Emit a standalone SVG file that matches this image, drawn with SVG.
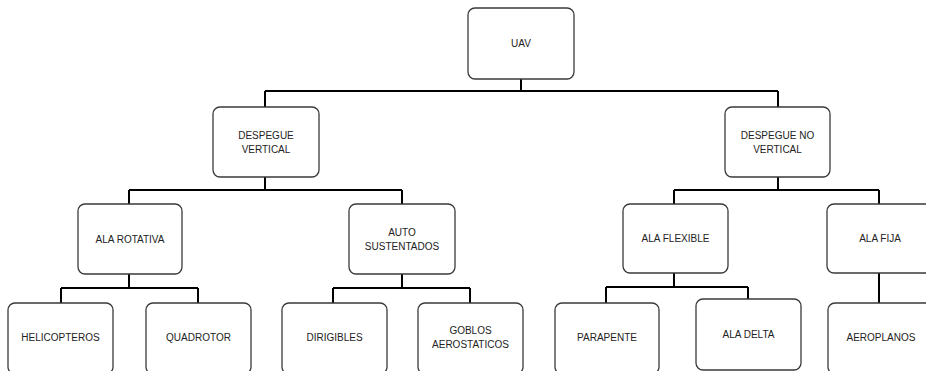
<svg xmlns="http://www.w3.org/2000/svg" width="926" height="371" viewBox="0 0 926 371">
<style>
.box{fill:#fff;stroke:#3a3a3a;stroke-width:1.3}
.lbl{font-family:"Liberation Sans",Arial,sans-serif;font-size:10px;fill:#222;text-anchor:middle;dominant-baseline:central}
.conn{fill:none;stroke:#000;stroke-width:2}
</style>
<rect width="926" height="371" fill="#fff"/>
<g id="connectors">
<path class="conn" d="M521,79V91M265,91H778M265,91V107M778,91V107"/>
<path class="conn" d="M265,177V190M129,190H402M129,190V204M402,190V204"/>
<path class="conn" d="M778,177V190M674,190H879M674,190V204M879,190V204"/>
<path class="conn" d="M129,274V288M61,288H198M61,288V303M198,288V303"/>
<path class="conn" d="M402,274V288M333,288H470M333,288V303M470,288V303"/>
<path class="conn" d="M674,273V287M606,287H748M606,287V303M748,287V299"/>
<path class="conn" d="M879,273V303"/>
</g>
<g id="uav"><rect class="box" x="468" y="8" width="106" height="71" rx="7"/><text class="lbl" x="521" y="43.5">UAV</text></g>
<g id="despegue-vertical"><rect class="box" x="213" y="107" width="106" height="70" rx="7"/><text class="lbl" x="266" y="135">DESPEGUE</text><text class="lbl" x="266" y="149">VERTICAL</text></g>
<g id="despegue-no-vertical"><rect class="box" x="725" y="107" width="105" height="70" rx="7"/><text class="lbl" x="777.5" y="135">DESPEGUE NO</text><text class="lbl" x="777.5" y="149">VERTICAL</text></g>
<g id="ala-rotativa"><rect class="box" x="78" y="204" width="104" height="70" rx="7"/><text class="lbl" x="130" y="239">ALA ROTATIVA</text></g>
<g id="auto-sustentados"><rect class="box" x="349" y="204" width="106" height="70" rx="7"/><text class="lbl" x="402" y="232">AUTO</text><text class="lbl" x="402" y="246">SUSTENTADOS</text></g>
<g id="ala-flexible"><rect class="box" x="623" y="204" width="105" height="69" rx="7"/><text class="lbl" x="675.5" y="238.5">ALA FLEXIBLE</text></g>
<g id="ala-fija"><rect class="box" x="827" y="204" width="106" height="69" rx="7"/><text class="lbl" x="880" y="238.5">ALA FIJA</text></g>
<g id="helicopteros"><rect class="box" x="8" y="303" width="105" height="71" rx="7"/><text class="lbl" x="60.5" y="337">HELICOPTEROS</text></g>
<g id="quadrotor"><rect class="box" x="146" y="303" width="105" height="71" rx="7"/><text class="lbl" x="198.5" y="337">QUADROTOR</text></g>
<g id="dirigibles"><rect class="box" x="282" y="303" width="105" height="71" rx="7"/><text class="lbl" x="334.5" y="337">DIRIGIBLES</text></g>
<g id="goblos-aerostaticos"><rect class="box" x="418" y="303" width="105" height="71" rx="7"/><text class="lbl" x="470.5" y="330">GOBLOS</text><text class="lbl" x="470.5" y="344">AEROSTATICOS</text></g>
<g id="parapente"><rect class="box" x="555" y="303" width="104" height="71" rx="7"/><text class="lbl" x="607" y="337">PARAPENTE</text></g>
<g id="ala-delta"><rect class="box" x="696" y="299" width="105" height="71" rx="7"/><text class="lbl" x="748.5" y="334">ALA DELTA</text></g>
<g id="aeroplanos"><rect class="box" x="828" y="303" width="106" height="71" rx="7"/><text class="lbl" x="881" y="337">AEROPLANOS</text></g>
</svg>
